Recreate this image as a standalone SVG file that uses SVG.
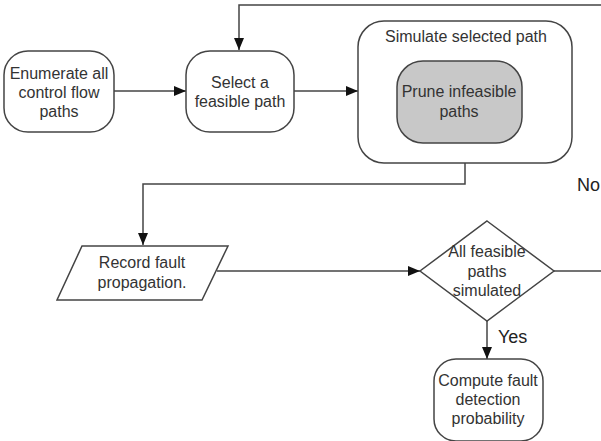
<svg xmlns="http://www.w3.org/2000/svg" width="601" height="441" viewBox="0 0 601 441">
<defs>
<marker id="arr" viewBox="0 0 12 10" refX="12" refY="5" markerWidth="12" markerHeight="10" markerUnits="userSpaceOnUse" orient="auto">
<path d="M0,0 L12,5 L0,10 Z" fill="#111"/>
</marker>
<style>
.n{fill:#fff;stroke:#444;stroke-width:1.5}
.g{fill:#c8c8c8;stroke:#444;stroke-width:1.5}
.c{fill:none;stroke:#444;stroke-width:1.5}
.t{font-family:"Liberation Sans",Arial,sans-serif;font-size:16px;fill:#333;text-anchor:middle}
.l{font-family:"Liberation Sans",Arial,sans-serif;font-size:18px;fill:#222}
</style>
</defs>
<rect width="601" height="441" fill="#fff"/>
<g id="connectors">
<path class="c" d="M601,5 H239 V50" marker-end="url(#arr)"/>
<path class="c" d="M114,91 H186" marker-end="url(#arr)"/>
<path class="c" d="M294,91 H358" marker-end="url(#arr)"/>
<path class="c" d="M465,163 V184 H143 V245" marker-end="url(#arr)"/>
<path class="c" d="M217,271 H420" marker-end="url(#arr)"/>
<path class="c" d="M554,271 H601"/>
<path class="c" d="M487,321 V359" marker-end="url(#arr)"/>
<text class="l" x="498" y="343">Yes</text>
<text class="l" x="577" y="191">No</text>
</g>
<g id="enumerate">
<rect class="n" x="4" y="51" width="110" height="81" rx="24"/>
<text class="t" x="59" y="79">Enumerate all</text>
<text class="t" x="59" y="98">control flow</text>
<text class="t" x="59" y="117">paths</text>
</g>
<g id="select">
<rect class="n" x="186" y="51" width="108" height="81" rx="24"/>
<text class="t" x="240" y="88">Select a</text>
<text class="t" x="240" y="107">feasible path</text>
</g>
<g id="simulate">
<rect class="n" x="358" y="21" width="214" height="142" rx="26"/>
<text class="t" x="466" y="42">Simulate selected path</text>
</g>
<g id="prune">
<rect class="g" x="397" y="61" width="125" height="82" rx="26"/>
<text class="t" x="459" y="97">Prune infeasible</text>
<text class="t" x="459" y="117">paths</text>
</g>
<g id="record">
<polygon class="n" points="82,246 228,246 202,300 57,300"/>
<text class="t" x="142" y="268">Record fault</text>
<text class="t" x="142" y="288">propagation.</text>
</g>
<g id="decision">
<polygon class="n" points="487,221 554,271 487,321 420,271"/>
<text class="t" x="487" y="257">All feasible</text>
<text class="t" x="487" y="277">paths</text>
<text class="t" x="487" y="296">simulated</text>
</g>
<g id="compute">
<rect class="n" x="434" y="359" width="109" height="82" rx="22"/>
<text class="t" x="488" y="386">Compute fault</text>
<text class="t" x="488" y="405">detection</text>
<text class="t" x="488" y="424">probability</text>
</g>
</svg>
